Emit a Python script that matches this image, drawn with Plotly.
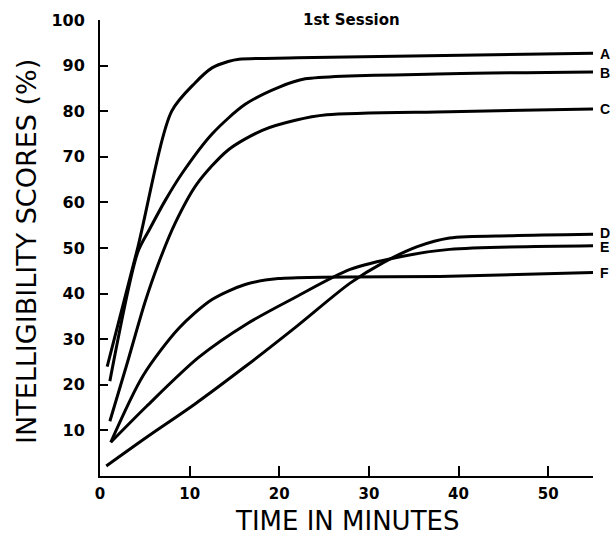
import plotly.graph_objects as go

# ---- data ----
a_t = [0.8, 4.2, 8.0, 10.6, 12.5, 14.3, 15.5, 22.0, 55.0]
a_v = [24.0, 50.0, 80.0, 86.2, 89.5, 90.9, 91.4, 91.7, 92.7]

b_t = [1.1, 4.2, 5.5, 7.3, 9.2, 12.5, 16.2, 20.0, 22.9, 39.0, 55.0]
b_v = [20.8, 49.0, 54.0, 60.5, 66.5, 75.0, 81.5, 85.3, 87.1, 88.2, 88.6]

c_t = [1.1, 3.0, 5.0, 6.5, 8.4, 10.8, 14.3, 18.1, 21.8, 25.3, 39.0, 55.0]
c_v = [12.0, 24.5, 38.0, 46.5, 55.5, 64.0, 71.5, 75.8, 78.0, 79.2, 79.9, 80.5]

d_t = [0.7, 5.2, 10.6, 16.2, 21.8, 27.9, 31.6, 35.4, 39.0, 46.0, 55.0]
d_v = [2.2, 8.5, 15.8, 24.0, 32.6, 42.3, 46.8, 50.3, 52.2, 52.7, 53.0]

e_t = [1.2, 5.2, 11.0, 16.5, 21.8, 27.9, 33.5, 39.0, 55.0]
e_v = [7.4, 15.3, 26.0, 33.5, 39.2, 45.3, 48.1, 49.7, 50.5]

f_t = [1.2, 4.8, 8.8, 12.5, 16.2, 19.9, 39.0, 55.0]
f_v = [7.4, 22.0, 32.4, 38.7, 42.0, 43.3, 43.8, 44.6]

curve_names = ["A", "B", "C", "D", "E", "F"]
label_y = [92.6, 88.4, 80.5, 53.2, 50.2, 44.6]

x_ticks = [0, 10, 20, 30, 40, 50]
y_ticks = [10, 20, 30, 40, 50, 60, 70, 80, 90, 100]

title_text = "1st Session"
x_title = "TIME IN MINUTES"
y_title = "INTELLIGIBILITY SCORES (%)"

series = [(a_t, a_v), (b_t, b_v), (c_t, c_v), (d_t, d_v), (e_t, e_v), (f_t, f_v)]

fig = go.Figure()
for (t, v), name in zip(series, curve_names):
    fig.add_trace(go.Scatter(
        x=t, y=v, mode="lines", name=name,
        line=dict(color="black", width=3, shape="spline", smoothing=0.8),
        showlegend=False, hoverinfo="skip",
    ))

annotations = []
for name, yv in zip(curve_names, label_y):
    annotations.append(dict(
        x=55, y=yv, xref="x", yref="y", text=name, showarrow=False,
        xanchor="left", yanchor="middle", xshift=5,
        font=dict(family="Liberation Sans", size=14, color="black", weight="bold"),
    ))

annotations.append(dict(
    x=28.1, y=100, xref="x", yref="y", text=title_text, showarrow=False,
    xanchor="center", yanchor="middle",
    font=dict(family="DejaVu Sans", size=15, color="black", weight="bold"),
))
annotations.append(dict(
    x=0.5, y=0, xref="paper", yref="paper", text=x_title, showarrow=False,
    xanchor="center", yanchor="middle", yshift=-45,
    font=dict(family="DejaVu Sans", size=26, color="black"),
))
annotations.append(dict(
    x=0, y=0.5, xref="paper", yref="paper", text=y_title, showarrow=False,
    xanchor="center", yanchor="middle", xshift=-74, yshift=-4, textangle=-90,
    font=dict(family="DejaVu Sans", size=27, color="black"),
))

fig.update_layout(
    width=613, height=535,
    margin=dict(l=100, r=20, t=20, b=59),
    paper_bgcolor="white", plot_bgcolor="white",
    hovermode=False,
    annotations=annotations,
    xaxis=dict(
        range=[0, 55], tickmode="array", tickvals=x_ticks,
        ticks="inside", ticklen=10, tickwidth=2, tickcolor="black",
        showline=True, linewidth=2, linecolor="black",
        showgrid=False, zeroline=False, ticklabelstandoff=3,
        tickfont=dict(family="DejaVu Sans", size=15, color="black", weight="bold"),
    ),
    yaxis=dict(
        range=[0, 100], tickmode="array", tickvals=y_ticks,
        ticks="inside", ticklen=8, tickwidth=2, tickcolor="black",
        showline=True, linewidth=2, linecolor="black",
        showgrid=False, zeroline=False, ticklabelstandoff=10,
        tickfont=dict(family="DejaVu Sans", size=16, color="black", weight="bold"),
    ),
)

# remove the default 8px page margin so the figure fills the window exactly
fig.write_html(
    "out.html",
    config={"displayModeBar": False},
    post_script="document.body.style.margin='0px';document.documentElement.style.overflow='hidden';",
)
